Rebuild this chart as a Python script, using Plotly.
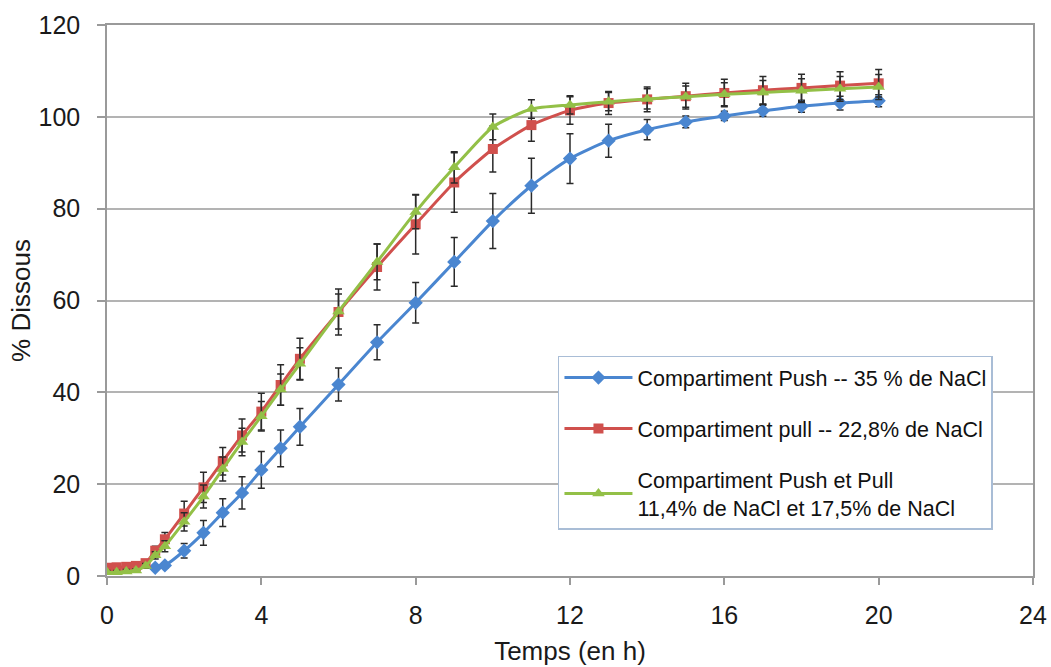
import plotly.graph_objects as go

# Time (h)
t_push = [1.25, 1.5, 2, 2.5, 3, 3.5, 4, 4.5, 5, 6, 7, 8, 9, 10, 11, 12, 13, 14, 15, 16, 17, 18, 19, 20]
push = [1.8, 2.3, 5.5, 9.4, 13.8, 18.1, 23.1, 27.8, 32.5, 41.7, 50.9, 59.5, 68.4, 77.3, 85.0, 90.9, 94.8, 97.2, 98.9, 100.2, 101.3, 102.3, 103.0, 103.5]
push_err = [0.5, 0.6, 1.6, 2.7, 3.0, 3.5, 4.0, 4.0, 4.0, 3.6, 3.8, 4.4, 5.3, 6.0, 6.0, 5.4, 3.6, 2.2, 1.3, 1.0, 1.2, 1.3, 1.5, 1.3]

t_pull = [0, 0.25, 0.5, 0.75, 1, 1.25, 1.5, 2, 2.5, 3, 3.5, 4, 4.5, 5, 6, 7, 8, 9, 10, 11, 12, 13, 14, 15, 16, 17, 18, 19, 20]
pull = [1.8, 1.9, 2.0, 2.2, 2.8, 5.5, 8.0, 13.6, 19.3, 25.0, 30.6, 35.8, 41.6, 47.3, 57.5, 67.3, 76.6, 85.7, 93.0, 98.2, 101.4, 103.0, 103.8, 104.5, 105.2, 105.8, 106.3, 106.8, 107.3]
pull_err = [0.5, 0.5, 0.5, 0.5, 0.6, 1.0, 1.5, 2.7, 3.3, 3.0, 3.6, 4.0, 4.4, 4.5, 5.0, 5.0, 6.5, 6.5, 5.0, 3.5, 3.0, 2.5, 2.7, 2.8, 3.0, 3.0, 3.0, 3.0, 3.0]

t_both = [0, 0.25, 0.5, 0.75, 1, 1.25, 1.5, 2, 2.5, 3, 3.5, 4, 4.5, 5, 6, 7, 8, 9, 10, 11, 12, 13, 14, 15, 16, 17, 18, 19, 20]
both = [0.8, 0.8, 1.0, 1.2, 2.2, 4.5, 6.5, 11.8, 17.3, 23.3, 29.2, 34.8, 40.6, 46.2, 57.6, 68.4, 79.3, 89.0, 97.8, 101.7, 102.6, 103.3, 103.9, 104.4, 104.9, 105.3, 105.7, 106.1, 106.5]
both_err = [0.4, 0.4, 0.4, 0.4, 0.5, 0.8, 1.2, 2.0, 2.5, 2.6, 3.0, 3.2, 3.4, 3.5, 3.8, 3.9, 3.7, 3.4, 2.8, 2.0, 2.0, 2.0, 2.2, 2.3, 2.5, 2.6, 2.6, 2.7, 2.7]

names = ["Compartiment Push -- 35 % de NaCl",
         "Compartiment pull -- 22,8% de NaCl",
         "Compartiment Push et Pull<br>11,4% de NaCl et 17,5% de NaCl"]

x_ticks = [0, 4, 8, 12, 16, 20, 24]
y_ticks = [0, 20, 40, 60, 80, 100, 120]

FONT = "Liberation Sans, Arial, sans-serif"

def trace(x, y, err, name, color, symbol, size, group):
    return go.Scatter(
        x=x, y=y, name=name, mode="lines+markers", legendgroup=group,
        line=dict(color=color, width=3, shape="spline", smoothing=0.6),
        marker=dict(color=color, symbol=symbol, size=size),
        error_y=dict(type="data", array=err, visible=True, color="#2a2a2a", thickness=1.5, width=3.5),
    )

fig = go.Figure()
fig.add_trace(trace(t_push, push, push_err, names[0], "#4a86d0", "diamond", 11, "a"))
fig.add_trace(trace(t_pull, pull, pull_err, names[1], "#d0504d", "square", 10, "b"))
fig.add_trace(trace(t_both, both, both_err, names[2], "#93c047", "triangle-up", 11, "c"))

fig.update_layout(
    width=1051, height=667,
    margin=dict(l=107, r=18, t=25, b=91, autoexpand=False),
    paper_bgcolor="white", plot_bgcolor="white",
    font=dict(family=FONT, color="#1a1a1a"),
    legend=dict(
        x=0.487, y=0.400, xanchor="left", yanchor="top",
        bgcolor="white", bordercolor="#a9bdd6", borderwidth=1.5,
        font=dict(size=21.5, family=FONT, color="#111111"),
        tracegroupgap=20, itemwidth=68,
        traceorder="grouped",
    ),
    showlegend=True,
)
fig.update_xaxes(
    range=[0, 24], tickvals=x_ticks, ticktext=[str(v) for v in x_ticks],
    showgrid=False, showline=True, linecolor="#9a9a9a", linewidth=1.5, mirror=True,
    ticks="outside", ticklen=7, tickcolor="#9a9a9a", tickwidth=1.5,
    tickfont=dict(size=25, family=FONT, color="#1a1a1a"),
    ticklabelstandoff=9, automargin=False,
    title=dict(text="Temps (en h)", font=dict(size=26, family=FONT, color="#1a1a1a"), standoff=14),
    zeroline=False,
)
fig.update_yaxes(
    range=[0, 120], tickvals=y_ticks, ticktext=[str(v) for v in y_ticks],
    showgrid=True, gridcolor="#b3b3b3", gridwidth=1.5,
    showline=True, linecolor="#9a9a9a", linewidth=1.5, mirror=True,
    ticks="outside", ticklen=8, tickcolor="#9a9a9a", tickwidth=1.5,
    tickfont=dict(size=25, family=FONT, color="#1a1a1a"),
    ticklabelstandoff=12, automargin=False,
    title=dict(text="% Dissous", font=dict(size=26, family=FONT, color="#1a1a1a"), standoff=0),
    zeroline=False,
)

fig.write_html("out.html")
